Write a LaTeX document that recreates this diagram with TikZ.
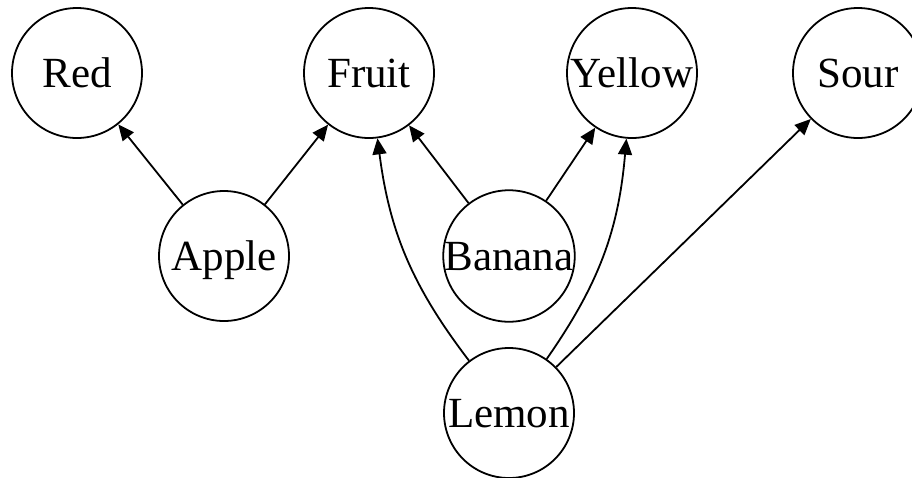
\documentclass[tikz,border=0pt]{standalone}
\usepackage{fontspec}
\setmainfont{Liberation Serif}
\usetikzlibrary{arrows.meta}
\begin{document}
\begin{tikzpicture}[x=1pt,y=-1pt,
  every node/.style={font=\fontsize{43}{48}\selectfont},
  fruitnode/.style={circle,draw,line width=1.8pt,minimum size=130pt,inner sep=0pt,
    text height=28pt,text depth=0pt},
  link/.style={line width=1.8pt,-{Triangle[length=16pt,width=14pt]}}]
  \useasboundingbox (0,0) rectangle (912,477);
  % top row
  \node[fruitnode] (red)    at (77,73)  {Red};
  \node[fruitnode] (fruit)  at (369,73) {Fruit};
  \node[fruitnode] (yellow) at (632,73) {Yellow};
  \node[fruitnode] (sour)   at (858,73) {Sour};
  % middle row
  \node[fruitnode] (apple)  at (224,256) {Apple};
  \node[fruitnode] (banana) at (509,256) {Banana};
  % bottom
  \node[fruitnode] (lemon)  at (509,413) {Lemon};
  % relations
  \draw[link] (apple) -- (red);
  \draw[link] (apple) -- (fruit);
  \draw[link] (banana) -- (fruit);
  \draw[link] (banana) -- (yellow);
  \draw[link] (lemon) to[bend left=15] (fruit);
  \draw[link] (lemon) to[bend right=15] (yellow);
  \draw[link] (lemon) -- (sour);
\end{tikzpicture}
\end{document}
